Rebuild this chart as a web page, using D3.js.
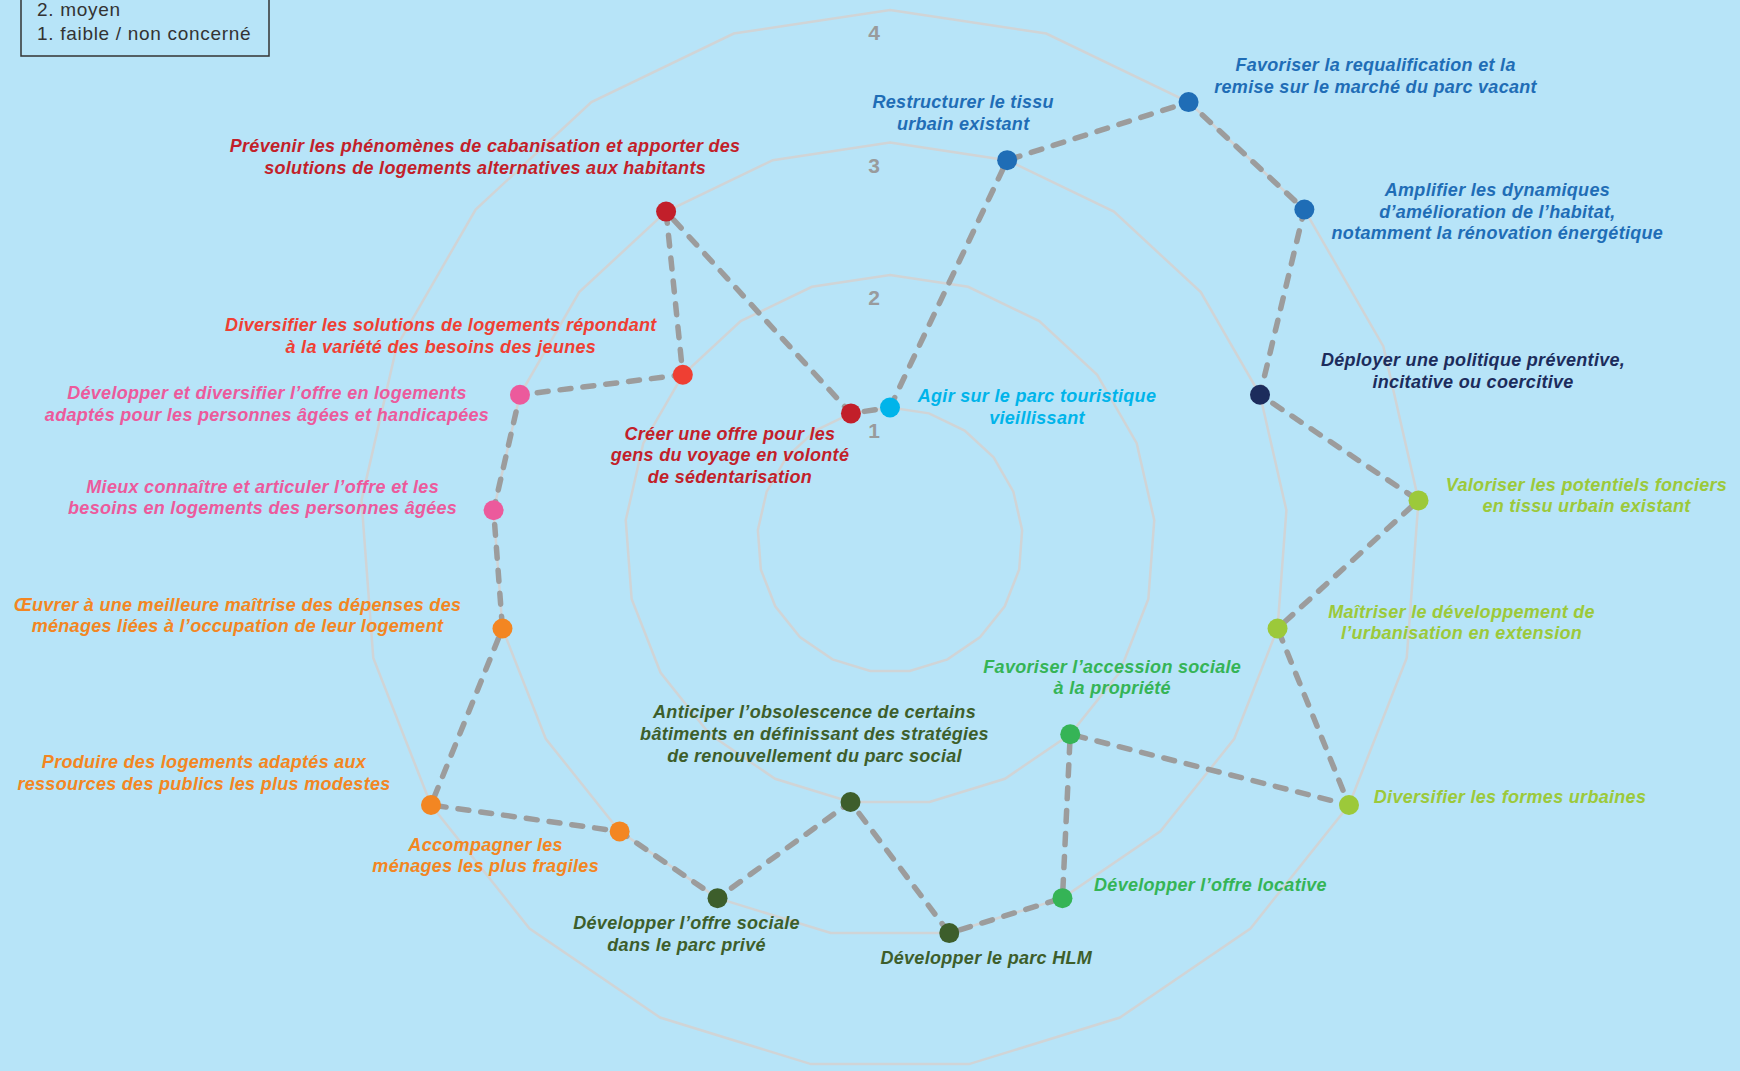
<!DOCTYPE html>
<html>
<head>
<meta charset="utf-8">
<script src="https://cdn.jsdelivr.net/npm/d3@7"></script>
<style>
  html, body { margin: 0; padding: 0; background: #b7e4f8; }
  svg { display: block; }
</style>
</head>
<body>
<div id="chart"></div>
<script>
// ---------- DATA ----------
const categories = [
  "Agir sur le parc touristique\nvieillissant",
  "Restructurer le tissu\nurbain existant",
  "Favoriser la requalification et la\nremise sur le marché du parc vacant",
  "Amplifier les dynamiques\nd’amélioration de l’habitat,\nnotamment la rénovation énergétique",
  "Déployer une politique préventive,\nincitative ou coercitive",
  "Valoriser les potentiels fonciers\nen tissu urbain existant",
  "Maîtriser le développement de\nl’urbanisation en extension",
  "Diversifier les formes urbaines",
  "Favoriser l’accession sociale\nà la propriété",
  "Développer l’offre locative",
  "Développer le parc HLM",
  "Anticiper l’obsolescence de certains\nbâtiments en définissant des stratégies\nde renouvellement du parc social",
  "Développer l’offre sociale\ndans le parc privé",
  "Accompagner les\nménages les plus fragiles",
  "Produire des logements adaptés aux\nressources des publics les plus modestes",
  "Œuvrer à une meilleure maîtrise des dépenses des\nménages liées à l’occupation de leur logement",
  "Mieux connaître et articuler l’offre et les\nbesoins en logements des personnes âgées",
  "Développer et diversifier l’offre en logements\nadaptés pour les personnes âgées et handicapées",
  "Diversifier les solutions de logements répondant\nà la variété des besoins des jeunes",
  "Prévenir les phénomènes de cabanisation et apporter des\nsolutions de logements alternatives aux habitants",
  "Créer une offre pour les\ngens du voyage en volonté\nde sédentarisation"
];
const values = [1, 3, 4, 4, 3, 4, 3, 4, 2, 3, 3, 2, 3, 3, 4, 3, 3, 3, 2, 3, 1];
const levels = [1, 2, 3, 4];
const levelLabels = ["1", "2", "3", "4"];
const legendLines = ["2. moyen", "1. faible / non concerné"];

// ---------- STYLE / LAYOUT ----------
const pointColors = [
  "#00b4ea", "#1f6db6", "#1f6db6", "#1f6db6", "#1c2c5c",
  "#9cc93a", "#9cc93a", "#9cc93a", "#35b456", "#35b456",
  "#3d5e2b", "#3d5e2b", "#3d5e2b", "#f38622", "#f38622",
  "#f38622", "#ec5a9c", "#ec5a9c", "#ef3f33", "#c21f2a", "#c21f2a"
];
// label offsets (centre x, first line centre y) relative to each point
const labelOffsets = [
  [147, -12], [-44, -58], [187, -37], [193, -20], [213, -35],
  [168, -16], [184, -17], [161, -8], [42, -68], [148, -13],
  [37, 25], [-36, -90], [-31, 25], [-134, 13], [-227, -43],
  [-265, -24], [-231, -24], [-253, -2], [-242, -50], [-181, -66],
  [-121, 20]
];

const W = 1740, H = 1071;
const cx = 890, cy = 540;
const n = categories.length;

const svg = d3.select("#chart").append("svg")
  .attr("width", W).attr("height", H);

svg.append("rect").attr("width", W).attr("height", H).attr("fill", "#b7e4f8");

const rScale = d3.scaleLinear().domain([0, 4]).range([0, 530]);
const angle = d3.scaleLinear().domain([0, n]).range([0, 2 * Math.PI]);

const g = svg.append("g").attr("transform", `translate(${cx},${cy})`);

// grid rings
const ringLine = d3.lineRadial()
  .angle((d, i) => angle(i))
  .radius(d => rScale(d))
  .curve(d3.curveLinearClosed);

g.selectAll("path.ring")
  .data(levels)
  .join("path")
  .attr("class", "ring")
  .attr("d", lv => ringLine(d3.range(n).map(() => lv)))
  .attr("fill", "none")
  .attr("stroke", "#d0d4d6")
  .attr("stroke-width", 2.5);

// level numbers
g.selectAll("text.lvl")
  .data(levels)
  .join("text")
  .attr("class", "lvl")
  .attr("x", -16)
  .attr("y", d => -rScale(d) + 30)
  .attr("text-anchor", "middle")
  .attr("font-family", "'Liberation Sans', Arial, sans-serif")
  .attr("font-weight", "bold")
  .attr("font-size", 21)
  .attr("fill", "#999b9c")
  .text((d, i) => levelLabels[i]);

// dashed data line
const dataLine = d3.lineRadial()
  .angle((d, i) => angle(i))
  .radius(d => rScale(d))
  .curve(d3.curveLinearClosed);

g.append("path")
  .attr("d", dataLine(values))
  .attr("fill", "none")
  .attr("stroke", "#9c9c9c")
  .attr("stroke-width", 5.5)
  .attr("stroke-linecap", "round")
  .attr("stroke-dasharray", "11,12");

const px = (v, i) => rScale(v) * Math.sin(angle(i));
const py = (v, i) => -rScale(v) * Math.cos(angle(i));

// dots
g.selectAll("circle.pt")
  .data(values)
  .join("circle")
  .attr("class", "pt")
  .attr("cx", (d, i) => px(d, i))
  .attr("cy", (d, i) => py(d, i))
  .attr("r", 10)
  .attr("fill", (d, i) => pointColors[i]);

// labels
const lineH = 21.7;
const lbl = g.selectAll("text.lab")
  .data(values)
  .join("text")
  .attr("class", "lab")
  .attr("text-anchor", "middle")
  .attr("font-family", "'Liberation Sans', Arial, sans-serif")
  .attr("font-weight", "bold")
  .attr("font-style", "italic")
  .attr("font-size", 18)
  .attr("letter-spacing", 0.3)
  .attr("fill", (d, i) => pointColors[i]);

lbl.each(function (d, i) {
  const lines = categories[i].split("\n");
  const x0 = px(d, i) + labelOffsets[i][0];
  const y0 = py(d, i) + labelOffsets[i][1];
  d3.select(this).selectAll("tspan")
    .data(lines)
    .join("tspan")
    .attr("x", x0)
    .attr("y", (l, k) => y0 + k * lineH)
    .attr("dy", "0.35em")
    .text(l => l);
});

// legend (top part cut off by the page edge)
const leg = svg.append("g");
leg.append("rect")
  .attr("x", 21).attr("y", -40)
  .attr("width", 248).attr("height", 96)
  .attr("fill", "none")
  .attr("stroke", "#333")
  .attr("stroke-width", 1.5);
leg.selectAll("text")
  .data(legendLines)
  .join("text")
  .attr("x", 37)
  .attr("y", (d, i) => 16 + i * 24)
  .attr("font-family", "'Liberation Sans', Arial, sans-serif")
  .attr("font-size", 19)
  .attr("letter-spacing", 0.7)
  .attr("fill", "#333")
  .text(d => d);
</script>
</body>
</html>
